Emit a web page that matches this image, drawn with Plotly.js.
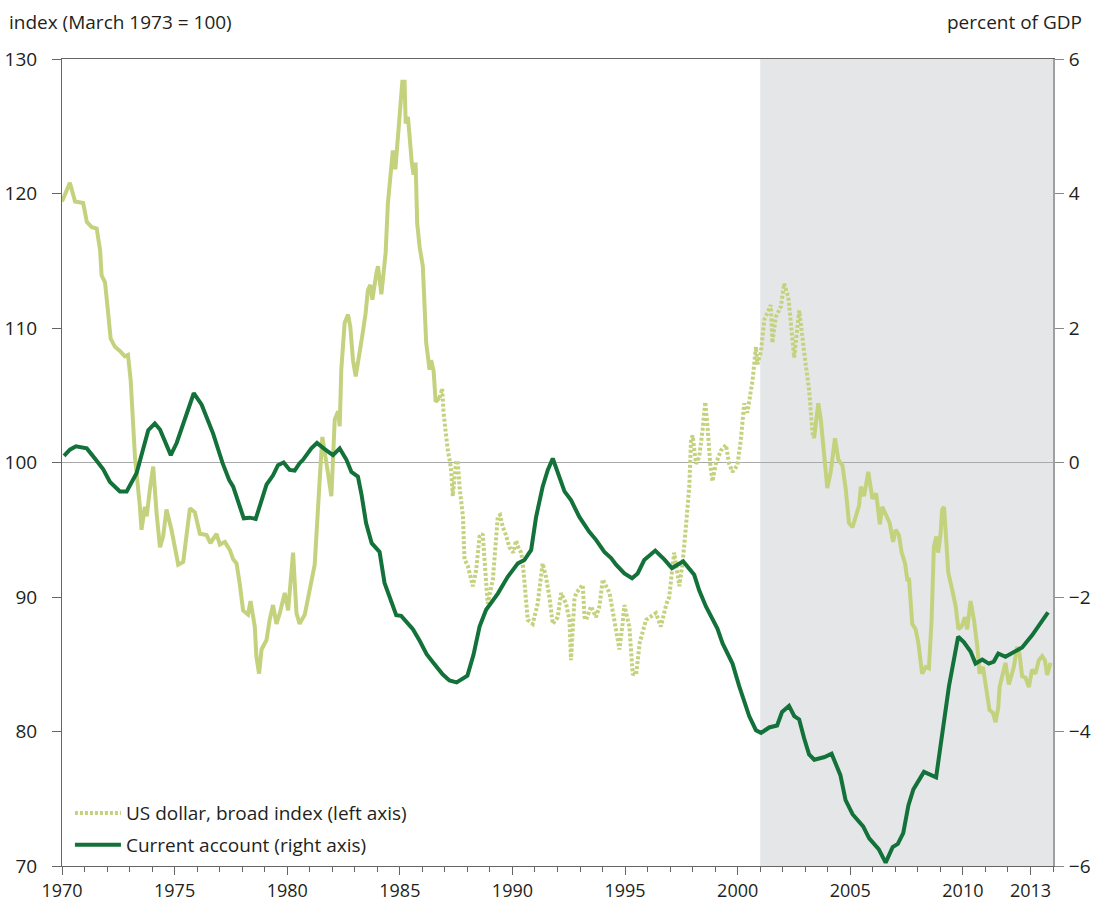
<!DOCTYPE html>
<html>
<head>
<meta charset="utf-8">
<script src="https://cdn.plot.ly/plotly-3.0.1.min.js"></script>
<style>
html,body{margin:0;padding:0;background:#fff;}
#chart{width:1097px;height:903px;}
</style>
</head>
<body>
<div id="chart"></div>
<script>
// US dollar, broad index (March 1973 = 100), left axis
const usdYears = [
1970.00,1970.35,1970.58,1970.94,1971.10,1971.32,1971.54,1971.69,1971.76,1971.91,
1972.05,1972.16,1972.35,1972.57,1972.79,1972.93,1973.05,1973.24,1973.46,1973.53,
1973.68,1973.76,1973.90,1974.05,1974.20,1974.35,1974.49,1974.64,1974.86,1975.16,
1975.38,1975.53,1975.68,1975.90,1976.12,1976.42,1976.59,1976.86,1977.01,1977.23,
1977.45,1977.60,1977.75,1977.89,1978.04,1978.26,1978.37,1978.56,1978.63,1978.75,
1978.86,1979.08,1979.22,1979.37,1979.52,1979.67,1979.89,1980.04,1980.26,1980.41,
1980.55,1980.78,1981.00,1981.22,1981.44,1981.56,1981.81,1981.96,1982.11,1982.26,
1982.33,1982.40,1982.55,1982.70,1982.80,1982.92,1983.04,1983.22,1983.33,1983.48,
1983.58,1983.69,1983.78,1983.96,1984.03,1984.18,1984.37,1984.47,1984.62,1984.69,
1984.80,1984.87,1984.99,1985.11,1985.21,1985.26,1985.36,1985.43,1985.53,1985.61,
1985.70,1985.77,1985.88,1986.02,1986.17,1986.32,1986.39,1986.50,1986.59,1986.76,
1986.88,1986.94,1987.06,1987.13,1987.21,1987.28,1987.35,1987.50,1987.57,1987.65,
1987.80,1987.87,1988.02,1988.24,1988.39,1988.54,1988.68,1988.80,1988.90,1989.13,
1989.35,1989.45,1989.57,1989.69,1989.87,1990.04,1990.16,1990.28,1990.39,1990.46,
1990.53,1990.68,1990.90,1991.12,1991.34,1991.49,1991.64,1991.79,1992.01,1992.16,
1992.38,1992.53,1992.60,1992.75,1992.83,1993.05,1993.12,1993.20,1993.27,1993.49,
1993.71,1993.86,1994.01,1994.31,1994.53,1994.60,1994.75,1994.89,1994.97,1995.19,
1995.34,1995.49,1995.65,1995.93,1996.37,1996.59,1996.82,1996.96,1997.18,1997.41,
1997.55,1997.70,1997.85,1997.93,1998.00,1998.15,1998.29,1998.44,1998.56,1998.66,
1998.78,1998.88,1999.03,1999.26,1999.48,1999.62,1999.77,1999.99,2000.14,2000.29,
2000.43,2000.66,2000.81,2000.88,2001.03,2001.18,2001.47,2001.54,2001.69,2001.92,
2002.06,2002.25,2002.36,2002.51,2002.73,2002.87,2003.02,2003.17,2003.32,2003.39,
2003.58,2003.69,2003.84,2003.98,2004.13,2004.32,2004.47,2004.65,2004.80,2004.94,
2005.10,2005.21,2005.39,2005.47,2005.61,2005.80,2005.98,2006.15,2006.31,2006.42,
2006.57,2006.75,2006.90,2007.02,2007.16,2007.28,2007.43,2007.53,2007.61,2007.75,
2007.90,2008.02,2008.19,2008.35,2008.49,2008.61,2008.71,2008.82,2008.90,2009.01,
2009.08,2009.16,2009.23,2009.35,2009.53,2009.68,2009.80,2009.94,2010.09,2010.19,
2010.34,2010.49,2010.64,2010.74,2010.89,2011.01,2011.18,2011.33,2011.45,2011.57,
2011.63,2011.77,2011.89,2012.04,2012.16,2012.26,2012.41,2012.51,2012.63,2012.78,
2012.93,2013.07,2013.22,2013.37,2013.52,2013.64,2013.74,2013.89
];
const usdIndex = [
119.4,120.8,119.4,119.3,117.9,117.5,117.4,115.8,113.9,113.4,
111.1,109.2,108.6,108.3,107.9,108.0,106.1,100.4,96.7,95.0,
96.7,96.0,98.0,99.7,96.2,93.7,94.5,96.5,95.0,92.4,
92.6,94.7,96.6,96.3,94.7,94.6,94.0,94.7,93.9,94.1,
93.5,92.8,92.5,91.0,89.0,88.7,89.7,87.8,85.6,84.3,
86.1,86.8,88.3,89.4,88.0,88.8,90.3,89.0,93.3,88.8,
88.0,88.7,90.5,92.4,98.7,101.9,99.2,97.5,103.2,103.8,
102.7,106.9,110.4,111.0,110.1,107.6,106.4,108.1,109.4,111.1,
112.8,113.2,112.1,114.1,114.6,112.5,115.6,119.3,122.3,123.2,
121.8,123.2,126.2,128.3,128.3,125.2,125.7,124.2,122.3,121.4,
122.3,117.8,116.0,114.6,108.9,106.9,107.6,106.8,104.5,104.8,
105.5,103.7,101.4,100.9,100.2,99.4,97.5,100.1,100.1,98.2,
96.0,92.8,92.3,90.8,92.0,94.5,94.7,91.8,89.5,91.3,
96.0,96.1,95.2,94.7,93.7,93.3,94.2,93.6,93.3,92.5,
91.0,88.3,88.0,89.5,92.5,91.5,90.0,88.0,88.5,90.3,
89.5,88.3,85.3,89.8,90.3,90.8,90.9,88.5,88.3,89.3,
88.5,89.3,91.3,90.3,88.3,87.8,86.1,88.0,89.4,87.8,
84.3,84.2,86.6,88.3,88.8,87.8,89.4,90.0,93.3,90.8,
92.5,95.2,98.2,101.7,102.0,99.9,100.4,102.4,104.5,102.7,
99.9,98.6,99.9,100.9,101.3,99.9,99.3,99.8,101.7,104.4,
103.7,106.1,108.6,107.3,108.2,110.6,111.7,108.9,110.8,111.6,
113.3,112.3,110.4,107.8,111.3,109.1,107.3,105.4,102.2,101.8,
104.4,103.2,100.4,98.1,99.3,101.8,100.2,99.8,98.0,95.5,
95.2,95.9,96.8,98.2,97.5,99.3,97.3,97.7,95.4,96.7,
96.2,95.5,94.1,95.0,94.6,93.3,92.5,91.3,91.3,88.0,
87.6,86.6,84.3,84.8,84.7,88.3,93.7,94.5,93.3,94.7,
96.5,96.7,95.0,91.8,90.5,89.3,87.6,87.8,88.5,87.6,
89.7,88.3,86.3,84.3,84.8,83.6,81.6,81.4,80.7,81.8,
83.3,84.3,85.1,83.5,84.1,84.8,86.3,85.8,84.1,84.0,
83.3,84.6,84.3,85.3,85.6,85.3,84.2,85.1
];
// period drawn dotted in the original
const usdDottedFrom = 1986.76;
const usdDottedTo = 2003.39;

// Current account, percent of GDP, right axis
const caYears = [
1970.09,1970.35,1970.62,1971.10,1971.46,1971.83,1972.13,1972.57,1972.87,1973.31,
1973.83,1974.12,1974.35,1974.83,1975.09,1975.45,1975.85,1976.20,1976.71,1977.13,
1977.42,1977.60,1978.07,1978.34,1978.60,1979.08,1979.37,1979.59,1979.84,1980.11,
1980.33,1980.55,1980.70,1981.07,1981.32,1981.66,1982.03,1982.33,1982.63,1982.85,
1983.14,1983.30,1983.50,1983.75,1984.10,1984.32,1984.84,1985.06,1985.58,1985.88,
1986.19,1986.54,1986.90,1987.20,1987.52,1988.00,1988.27,1988.54,1988.83,1989.35,
1989.79,1990.24,1990.53,1990.83,1991.05,1991.34,1991.57,1991.79,1992.08,1992.31,
1992.60,1992.97,1993.41,1993.71,1994.08,1994.38,1994.60,1994.97,1995.31,1995.56,
1995.85,1996.34,1996.74,1997.08,1997.33,1997.58,1998.07,1998.29,1998.59,1999.10,
1999.33,1999.77,2000.07,2000.51,2000.81,2001.04,2001.40,2001.75,2001.97,2002.28,
2002.51,2002.73,2002.95,2003.17,2003.40,2003.86,2004.17,2004.56,2004.79,2005.10,
2005.57,2005.84,2006.26,2006.57,2006.88,2007.11,2007.35,2007.58,2007.80,2008.27,
2008.81,2009.38,2009.79,2010.04,2010.34,2010.56,2010.86,2011.15,2011.37,2011.57,
2011.89,2012.19,2012.41,2012.63,2013.07,2013.52,2013.78
];
const caValues = [
0.10,0.19,0.24,0.21,0.06,-0.10,-0.29,-0.43,-0.43,-0.16,
0.48,0.58,0.49,0.11,0.29,0.66,1.03,0.86,0.43,-0.01,
-0.26,-0.36,-0.83,-0.82,-0.84,-0.33,-0.19,-0.04,0.00,-0.11,
-0.12,-0.01,0.04,0.21,0.29,0.20,0.11,0.21,0.04,-0.14,
-0.21,-0.48,-0.90,-1.20,-1.33,-1.79,-2.27,-2.28,-2.48,-2.65,
-2.85,-3.00,-3.15,-3.24,-3.27,-3.17,-2.86,-2.44,-2.19,-1.95,
-1.70,-1.50,-1.45,-1.30,-0.81,-0.36,-0.11,0.06,-0.21,-0.43,
-0.56,-0.81,-1.03,-1.15,-1.33,-1.42,-1.52,-1.65,-1.72,-1.65,
-1.45,-1.31,-1.44,-1.57,-1.52,-1.47,-1.67,-1.90,-2.14,-2.47,
-2.69,-2.99,-3.33,-3.77,-3.98,-4.02,-3.94,-3.91,-3.71,-3.62,
-3.77,-3.82,-4.10,-4.34,-4.42,-4.38,-4.33,-4.65,-5.02,-5.23,
-5.41,-5.59,-5.75,-5.95,-5.72,-5.67,-5.51,-5.10,-4.86,-4.60,
-4.68,-3.33,-2.59,-2.67,-2.81,-2.99,-2.93,-2.99,-2.96,-2.84,
-2.89,-2.84,-2.79,-2.75,-2.57,-2.37,-2.23
];

const shadeStart = 2001.0;
const xMin = 1970, xMax = 2014;
const xTickVals = [1970,1975,1980,1985,1990,1995,2000,2005,2010,2013];
const leftTicks = [70,80,90,100,110,120,130];
const rightTicks = [-6,-4,-2,0,2,4,6];

const lightGreen = '#c4d27e';
const darkGreen = '#13713a';

function segment(lo, hi) {
  const xs = [], ys = [];
  for (let i = 0; i < usdYears.length; i++) {
    if (usdYears[i] >= lo && usdYears[i] <= hi) { xs.push(usdYears[i]); ys.push(usdIndex[i]); }
  }
  return {xs, ys};
}
const segA = segment(-Infinity, usdDottedFrom);
const segB = segment(usdDottedFrom, usdDottedTo);
const segC = segment(usdDottedTo, Infinity);

const FONT = '"Open Sans", "Noto Sans", sans-serif';
const FS = 19;
const TXT = '#231f20';

const traces = [
  {x: segB.xs, y: segB.ys, type: 'scatter', mode: 'lines', name: 'US dollar, broad index (left axis)',
   line: {color: lightGreen, width: 4, dash: '3px,2px'}, legendgroup: 'a', yaxis: 'y'},
  {x: segA.xs, y: segA.ys, type: 'scatter', mode: 'lines', showlegend: false,
   line: {color: lightGreen, width: 4}, yaxis: 'y'},
  {x: segC.xs, y: segC.ys, type: 'scatter', mode: 'lines', showlegend: false,
   line: {color: lightGreen, width: 4}, yaxis: 'y'},
  {x: caYears, y: caValues, type: 'scatter', mode: 'lines', name: 'Current account (right axis)',
   line: {color: darkGreen, width: 4}, legendgroup: 'b', yaxis: 'y2'}
];

const layout = {
  width: 1097, height: 903,
  margin: {l: 62, r: 44, t: 59, b: 37},
  paper_bgcolor: '#fff', plot_bgcolor: 'rgba(0,0,0,0)',
  font: {family: FONT, size: FS, color: TXT},
  showlegend: true,
  legend: {x: 0.008, y: 0.089, xanchor: 'left', yanchor: 'top', bgcolor: 'rgba(0,0,0,0)',
           font: {family: FONT, size: FS, color: TXT}, traceorder: 'grouped', tracegroupgap: 4,
           itemwidth: 46},
  xaxis: {range: [xMin, xMax], tickmode: 'array', tickvals: xTickVals, ticktext: xTickVals.map(String),
          ticks: 'outside', ticklen: 8, tickcolor: '#666', showline: true, linecolor: '#666', linewidth: 1,
          mirror: true, showgrid: false, zeroline: false, ticklabelstandoff: 0,
          minor: {tickmode: 'linear', tick0: 1970, dtick: 1, ticks: 'outside', ticklen: 5, tickcolor: '#666', showgrid: false},
          tickfont: {family: FONT, size: 18, color: TXT}},
  yaxis: {range: [70, 130], tickmode: 'array', tickvals: leftTicks, ticks: 'outside', ticklen: 9,
          tickcolor: '#666', showline: true, linecolor: '#666', linewidth: 1, showgrid: false, zeroline: false,
          ticklabelstandoff: 11, tickfont: {family: FONT, size: FS, color: TXT}},
  yaxis2: {range: [-6, 6], tickmode: 'array', tickvals: rightTicks, overlaying: 'y', side: 'right',
           ticks: 'outside', ticklen: 9, tickcolor: '#888', showline: true, linecolor: '#a0a0a0', linewidth: 2,
           showgrid: false, zeroline: true, zerolinecolor: '#aaaaaa', zerolinewidth: 1,
           ticklabelstandoff: 1, tickfont: {family: FONT, size: FS, color: TXT}},
  shapes: [
    {type: 'rect', xref: 'x', yref: 'paper', x0: shadeStart, x1: xMax, y0: 0, y1: 1,
     fillcolor: '#e5e6e8', line: {width: 0}, layer: 'below'}
  ],
  annotations: [
    {text: 'index (March 1973 = 100)', xref: 'paper', yref: 'paper', x: -0.0555, y: 1.0458,
     xanchor: 'left', yanchor: 'middle', showarrow: false, font: {family: FONT, size: FS, color: TXT}},
    {text: 'percent of GDP', xref: 'paper', yref: 'paper', x: 1.031, y: 1.0458,
     xanchor: 'right', yanchor: 'middle', showarrow: false, font: {family: FONT, size: FS, color: TXT}}
  ]
};

Plotly.newPlot('chart', traces, layout, {staticPlot: true, displayModeBar: false});
</script>
</body>
</html>
